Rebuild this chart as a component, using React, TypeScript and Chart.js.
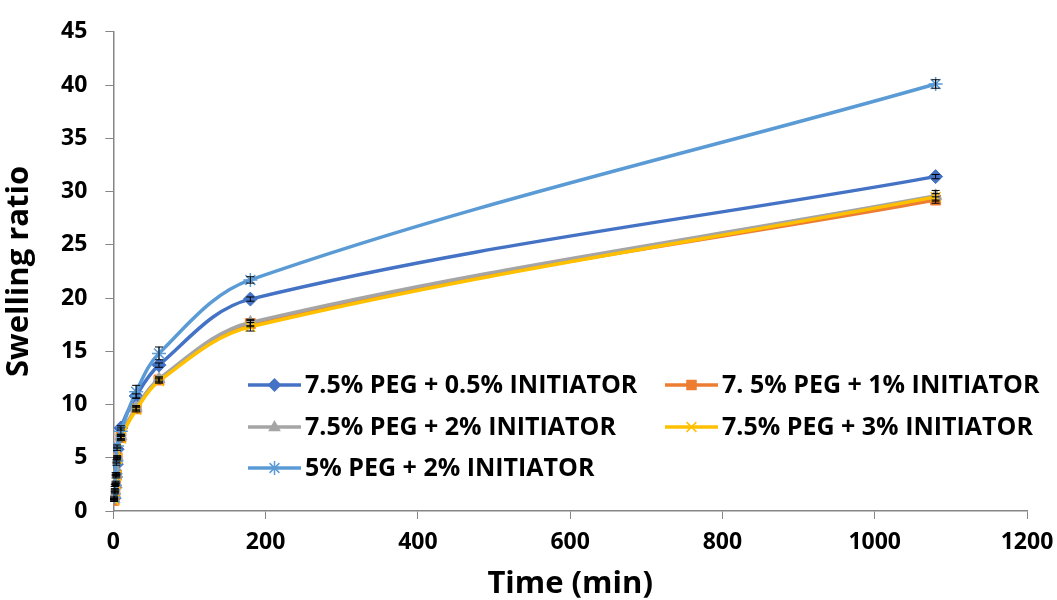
import React, { useEffect, useRef } from "react";
import { Chart, registerables } from "chart.js";

Chart.register(...registerables);

const times = [1, 2, 3, 4, 5, 10, 30, 60, 180, 1080];
const s1 = [1.2, 2.2, 3.2, 4.4, 5.8, 7.8, 10.8, 13.7, 19.9, 31.4];
const s2 = [1.0, 1.8, 2.6, 3.4, 5.0, 6.9, 9.6, 12.3, 17.6, 29.2];
const s3 = [1.1, 1.9, 2.7, 3.5, 5.1, 7.0, 9.7, 12.4, 17.7, 29.6];
const s4 = [1.0, 1.7, 2.5, 3.3, 4.9, 6.8, 9.5, 12.2, 17.3, 29.5];
const s5 = [1.3, 2.4, 3.5, 4.7, 6.1, 7.5, 11.2, 14.8, 21.7, 40.1];
const e1 = [0.1, 0.1, 0.1, 0.1, 0.1, 0.2, 0.2, 0.2, 0.2, 0.2];
const e2 = [0.1, 0.1, 0.1, 0.1, 0.1, 0.2, 0.2, 0.2, 0.3, 0.3];
const e3 = [0.1, 0.1, 0.1, 0.1, 0.1, 0.2, 0.2, 0.2, 0.3, 0.5];
const e4 = [0.1, 0.1, 0.1, 0.1, 0.1, 0.2, 0.2, 0.2, 0.4, 0.3];
const e5 = [0.1, 0.1, 0.1, 0.1, 0.1, 0.3, 0.6, 0.6, 0.3, 0.4];
const xTicks = [0, 200, 400, 600, 800, 1000, 1200];
const labels = [
  "7.5% PEG + 0.5% INITIATOR",
  "7. 5% PEG + 1% INITIATOR",
  "7.5% PEG + 2% INITIATOR",
  "7.5% PEG + 3% INITIATOR",
  "5% PEG + 2% INITIATOR",
];
const colors = ["#4472C4", "#ED7D31", "#A5A5A5", "#FFC000", "#5B9BD5"];
const styles = ["rectRot", "rect", "triangle", "crossRot", "star"];
const radii = [7, 7, 7, 7, 7];
const seriesValues = [s1, s2, s3, s4, s5];
const seriesErrors = [e1, e2, e3, e4, e5];

const FONT = "'Open Sans', 'Noto Sans', sans-serif";

function drawMarker(ctx: CanvasRenderingContext2D, style: string, x: number, y: number, r: number) {
  ctx.beginPath();
  if (style === "rectRot") {
    ctx.moveTo(x, y - r);
    ctx.lineTo(x + r, y);
    ctx.lineTo(x, y + r);
    ctx.lineTo(x - r, y);
    ctx.closePath();
    ctx.fill();
  } else if (style === "rect") {
    ctx.rect(x - r * 0.75, y - r * 0.75, r * 1.5, r * 1.5);
    ctx.fill();
  } else if (style === "triangle") {
    ctx.moveTo(x, y - r);
    ctx.lineTo(x + r * 0.9, y + r * 0.6);
    ctx.lineTo(x - r * 0.9, y + r * 0.6);
    ctx.closePath();
    ctx.fill();
  } else if (style === "crossRot") {
    const d = r * 0.7;
    ctx.moveTo(x - d, y - d);
    ctx.lineTo(x + d, y + d);
    ctx.moveTo(x + d, y - d);
    ctx.lineTo(x - d, y + d);
    ctx.stroke();
  } else if (style === "star") {
    const d = r * 0.7;
    ctx.moveTo(x - d, y - d);
    ctx.lineTo(x + d, y + d);
    ctx.moveTo(x + d, y - d);
    ctx.lineTo(x - d, y + d);
    ctx.moveTo(x, y - r);
    ctx.lineTo(x, y + r);
    ctx.stroke();
  }
}

const errorBarPlugin = {
  id: "errorBars",
  afterDatasetsDraw(chart: any) {
    const ctx = chart.ctx;
    const xs = chart.scales.x;
    const ys = chart.scales.y;
    ctx.save();
    ctx.strokeStyle = "#000";
    ctx.lineWidth = 1;
    seriesValues.forEach((vals, si) => {
      vals.forEach((v, i) => {
        const err = seriesErrors[si][i];
        const px = xs.getPixelForValue(times[i]);
        const top = ys.getPixelForValue(v + err);
        const bot = ys.getPixelForValue(v - err);
        ctx.beginPath();
        ctx.moveTo(px, top);
        ctx.lineTo(px, bot);
        ctx.moveTo(px - 4, top);
        ctx.lineTo(px + 4, top);
        ctx.moveTo(px - 4, bot);
        ctx.lineTo(px + 4, bot);
        ctx.stroke();
      });
    });
    ctx.restore();
  },
};

const legendPlugin = {
  id: "customLegend",
  afterDraw(chart: any) {
    const ctx = chart.ctx;
    const pos = [
      [248, 385],
      [665, 385],
      [248, 427],
      [665, 427],
      [248, 468],
    ];
    ctx.save();
    labels.forEach((lab, i) => {
      const [x, y] = pos[i];
      ctx.strokeStyle = colors[i];
      ctx.lineWidth = 3.5;
      ctx.beginPath();
      ctx.moveTo(x, y);
      ctx.lineTo(x + 53, y);
      ctx.stroke();
      ctx.fillStyle = colors[i];
      ctx.strokeStyle = colors[i];
      ctx.lineWidth = 1.5;
      drawMarker(ctx, styles[i], x + 26.5, y, radii[i]);
      ctx.fillStyle = "#000";
      ctx.font = `bold 25px ${FONT}`;
      ctx.textBaseline = "middle";
      ctx.textAlign = "left";
      ctx.fillText(lab, x + 57, y + 1);
    });
    ctx.restore();
  },
};

export default function App() {
  const ref = useRef<HTMLCanvasElement>(null);
  useEffect(() => {
    const datasets = seriesValues.map((vals, si) => ({
      label: labels[si],
      data: vals.map((v, i) => ({ x: times[i], y: v })),
      borderColor: colors[si],
      backgroundColor: colors[si],
      pointStyle: styles[si] as any,
      pointRadius: radii[si],
      pointBorderWidth: si >= 3 ? 1.5 : 1,
      borderWidth: 3.5,
      showLine: true,
      tension: 0.35,
      order: 5 - si,
    }));
    const chart = new Chart(ref.current!, {
      type: "scatter",
      data: { datasets },
      options: {
        animation: false,
        responsive: false,
        layout: { padding: { top: 26, right: 30, left: 2, bottom: 0 } },
        plugins: { legend: { display: false }, tooltip: { enabled: false } },
        scales: {
          x: {
            type: "linear",
            min: 0,
            max: 1200,
            afterBuildTicks: (axis: any) => {
              axis.ticks = xTicks.map((v) => ({ value: v }));
            },
            afterFit: (scale: any) => {
              scale.paddingRight = 0;
            },
            ticks: {
              color: "#000",
              font: { family: FONT, size: 23, weight: "bold", lineHeight: 1.0 },
              padding: 12,
              callback: (v: any) => String(v),
            },
            grid: { drawOnChartArea: false, drawTicks: true, tickLength: 8, color: "#868686" },
            border: { color: "#868686", width: 1.5 },
            title: {
              display: true,
              text: "Time (min)",
              color: "#000",
              font: { family: FONT, size: 31, weight: "bold", lineHeight: 1.0 },
              padding: { top: 3, bottom: 0 },
            },
          },
          y: {
            min: 0,
            max: 45,
            ticks: { stepSize: 5, color: "#000", font: { family: FONT, size: 23, weight: "bold" }, padding: 18 },
            grid: { drawOnChartArea: false, drawTicks: true, tickLength: 8, color: "#868686" },
            border: { color: "#868686", width: 1.5 },
            title: {
              display: true,
              text: "Swelling ratio",
              color: "#000",
              font: { family: FONT, size: 31, weight: "bold", lineHeight: 1.0 },
              padding: { top: 2, bottom: 8 },
            },
          },
        },
      },
      plugins: [errorBarPlugin, legendPlugin],
    });
    return () => chart.destroy();
  }, []);
  return (
    <div style={{ position: "fixed", left: 0, top: 0, width: 1057, height: 600, background: "#fff" }}>
      <canvas ref={ref} width={1057} height={600} />
    </div>
  );
}
